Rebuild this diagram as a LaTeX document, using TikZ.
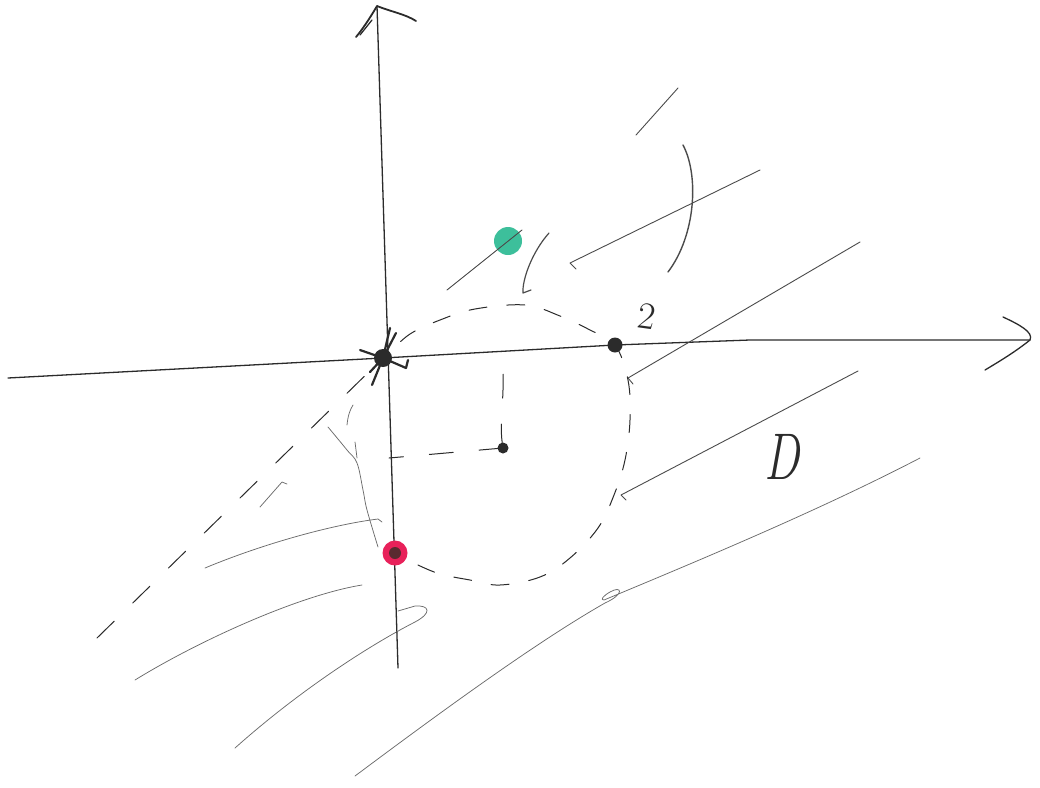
\documentclass[tikz,border=0pt]{standalone}
\usetikzlibrary{calc}
\definecolor{inkc}{HTML}{2B2B2B}
\definecolor{greenc}{HTML}{3DBF9B}
\definecolor{redc}{HTML}{E8215A}
\definecolor{redcore}{HTML}{5A2A30}
\begin{document}
\begin{tikzpicture}[x=1pt,y=-1pt,line cap=round,line join=round,
  axis/.style={draw=inkc,line width=1.3pt},
  hatch/.style={draw=inkc!85,line width=0.9pt},
  faint/.style={draw=inkc!70,line width=0.75pt},
  dcirc/.style={draw=inkc,line width=1pt,dash pattern=on 18pt off 20pt},
  ddash/.style={draw=inkc,line width=1pt,dash pattern=on 24pt off 26pt},
  blackdot/.style={circle,fill=inkc,inner sep=0pt,minimum size=#1},
  spike/.style={draw=inkc,line width=2.2pt},
  lbl/.style={text=inkc,inner sep=0pt}]
\useasboundingbox (0,0) rectangle (1040,787);

% ---------- points ----------
\coordinate (O) at (383,358);
\coordinate (P) at (615,345);
\coordinate (C) at (503,448);
\coordinate (R) at (395,553);
\coordinate (G) at (508,241);

% ---------- axes ----------
\coordinate (ybot) at (398,668);
\coordinate (ytop) at (377,6);
\coordinate (xl) at (8,378);
\coordinate (xr) at (1030,340);
\draw[axis] (ybot) -- (ytop);
\draw[axis,line width=1.8pt] (356,37) .. controls (362,30) and (370,18) .. (ytop)
            .. controls (392,12) and (405,14) .. (416,21);
\draw[axis] (360,35) -- (372,20);
\draw[axis] (xl) -- (O) -- (P) -- (750,340) -- (xr);
\draw[axis] (1003,317) .. controls (1018,324) and (1034,332) .. (xr)
            .. controls (1015,352) and (1000,361) .. (985,370);

% ---------- dashed circle (boundary of D) ----------
\draw[dcirc] plot[smooth,tension=0.6] coordinates {
  (418,565) (440,574) (470,580) (500,585) (540,577) (570,558) (598,528)
  (614,495) (625,460) (630,420) (628,380) (615,345) (590,330) (560,316)
  (525,305) (475,309) (440,320) (410,334) (390,352)};
% left side of the boundary
\draw[faint] plot[smooth,tension=0.6] coordinates {
  (328,427) (347,450) (357,463) (363,490) (367,510) (378,547)};
\draw[faint] (355,442) -- (357,458);
\draw[faint] (347,425) .. controls (348,415) and (350,410) .. (353,405);

% ---------- dashed guides from the centre ----------
\coordinate (Cx) at (502,352);
\coordinate (Cy) at (389,458);
\draw[ddash] (C) .. controls (498,420) and (506,400) .. (Cx);
\draw[ddash] (C) -- (Cy);

% ---------- dashed line through the origin ----------
\coordinate (L) at (97,638);
\draw[ddash] (L) -- (O);
\draw[faint] (260,507) -- (282,482) -- (287,484);

% ---------- hatching strokes ----------
\draw[hatch] (636,135) -- (678,88);
\draw[hatch,line width=1.4pt] (683,145) .. controls (699,175) and (696,235) .. (668,272);
\draw[hatch] (576,269) -- (570,263) -- (760,170);
\draw[hatch,line width=1.2pt] (549,233) .. controls (532,252) and (522,280) .. (523,293) -- (531,290);
\draw[hatch] (633,384) -- (628,378) -- (860,242);
\draw[hatch] (626,500) -- (621,495) -- (858,371);
\draw[faint] (355,776) .. controls (450,705) and (540,640) .. (605,603)
   .. controls (625,594) and (622,585) .. (610,592)
   .. controls (603,596) and (600,600) .. (604,600)
   .. controls (700,560) and (820,510) .. (920,458);
\draw[faint] (235,748) .. controls (300,690) and (370,645) .. (415,622)
   .. controls (432,613) and (430,605) .. (415,606) -- (398,611);
\draw[faint] (135,680) .. controls (200,640) and (300,595) .. (362,585);
\draw[faint] (205,568) .. controls (260,545) and (330,525) .. (378,519) -- (382,522);

% ---------- coloured and black points ----------
\node[circle,fill=greenc,inner sep=0pt,minimum width=28pt,minimum height=26pt] (g) at (G) {};
\coordinate (ga) at (447,290);
\coordinate (gb) at (522,230);
\draw[hatch] (ga) -- (gb);

\node[circle,fill=redc,inner sep=0pt,minimum size=25pt] (r) at (R) {};
\node[circle,fill=redcore,inner sep=0pt,minimum size=12pt] (r2) at (R) {};

\node[blackdot=11pt] (c) at (C) {};
\node[blackdot=15pt] (p) at (P) {};
\node[blackdot=18pt] (o) at (O) {};
\draw[spike] (o.center) -- (372,385);
\draw[spike] (o.center) -- (390,328);
\draw[spike] (o.center) -- (396,333);
\draw[spike] (o.center) -- (360,350);
\draw[spike] (o.center) -- (406,368) -- (408,360);
\draw[spike] (o.center) -- (370,372);

% ---------- labels ----------
\node[lbl,font=\fontsize{38}{38}\selectfont,rotate=-8] (two) at (647,316) {2};
\node[lbl,font=\fontsize{66}{66}\selectfont\itshape,xscale=0.72] (D) at (782,457) {D};
\end{tikzpicture}
\end{document}
